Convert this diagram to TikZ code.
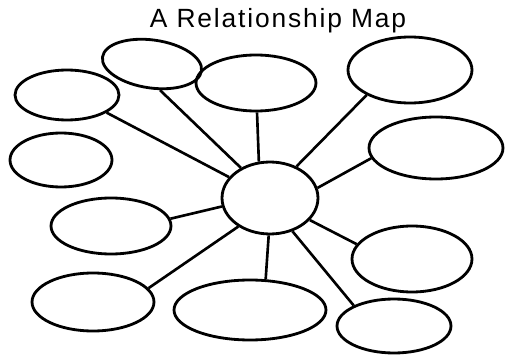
\documentclass[tikz,border=0pt]{standalone}
\usepackage{fontspec}
\newfontfamily\titlefont[LetterSpace=7]{Liberation Sans}
\usepackage{tikz}
\usetikzlibrary{shapes.geometric}
\tikzset{
  blob/.style  = {ellipse, draw=black, line width=1.6pt, inner sep=0pt},
  hub/.style   = {blob},
  ln/.style    = {draw=black, line width=1.5pt},
}

\begin{document}
\begin{tikzpicture}[x=0.02cm, y=-0.02cm]
    \useasboundingbox (0,0) rectangle (508,355);
    \node[anchor=base] (title) at (278,28) {\titlefont\fontsize{15}{18}\selectfont A Relationship Map};
    % centre
    \node[hub, minimum width=1.92cm, minimum height=1.44cm] (centre) at (270,198) {};
    % ovals round it
    \node[blob, minimum width=2.0cm,  minimum height=0.96cm, rotate=-8] (topleft) at (152,64) {};
    \node[blob, minimum width=2.08cm, minimum height=1.0cm]  (leftup)   at (67,95)   {};
    \node[blob, minimum width=2.04cm, minimum height=1.08cm] (leftmid)  at (61,160)  {};
    \node[blob, minimum width=2.4cm,  minimum height=1.12cm] (topmid)   at (256,83)  {};
    \node[blob, minimum width=2.48cm, minimum height=1.32cm] (topright) at (410,70)  {};
    \node[blob, minimum width=2.68cm, minimum height=1.24cm] (rightup)  at (436,148) {};
    \node[blob, minimum width=2.4cm,  minimum height=1.32cm] (rightlow) at (412,259) {};
    \node[blob, minimum width=2.28cm, minimum height=1.08cm] (botright) at (394,326) {};
    \node[blob, minimum width=3.04cm, minimum height=1.2cm]  (botmid)   at (250,310) {};
    \node[blob, minimum width=2.4cm,  minimum height=1.12cm] (leftlow)  at (111,226) {};
    \node[blob, minimum width=2.44cm, minimum height=1.16cm] (botleft)  at (93,302)  {};
    % spokes
    \draw[ln] (centre.134) -- (topleft.-65);
    \draw[ln] (centre.153) -- (leftup.-24);
    \draw[ln] (centre.107) -- (topmid.-88);
    \draw[ln] (centre.50)  -- (topright.210);
    \draw[ln] (centre.12)  -- (rightup.189);
    \draw[ln] (centre.-29) -- (rightlow.165);
    \draw[ln] (centre.-56) -- (botright.153);
    \draw[ln] (centre.-92) -- (botmid.63);
    \draw[ln] (centre.190) -- (leftlow.7);
    \draw[ln] (centre.222) -- (botleft.14);
  \end{tikzpicture}
\end{document}
